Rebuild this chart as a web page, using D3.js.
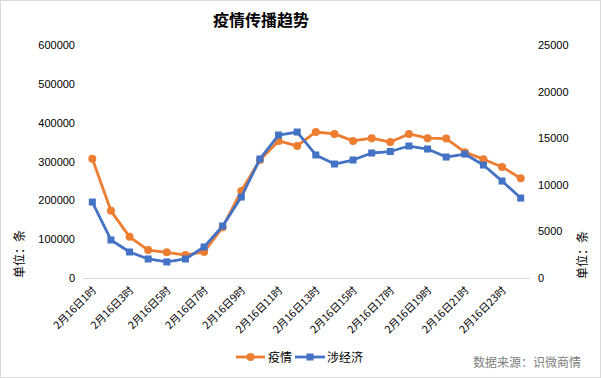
<!DOCTYPE html>
<html><head><meta charset="utf-8">
<script src="https://cdn.jsdelivr.net/npm/d3@7"></script>
<style>body{margin:0;background:#fff}svg{display:block}</style>
</head><body>
<svg id="c" width="601" height="378"></svg>
<script>
const hours = ["2月16日1时","2月16日2时","2月16日3时","2月16日4时","2月16日5时","2月16日6时","2月16日7时","2月16日8时","2月16日9时","2月16日10时","2月16日11时","2月16日12时","2月16日13时","2月16日14时","2月16日15时","2月16日16时","2月16日17时","2月16日18时","2月16日19时","2月16日20时","2月16日21时","2月16日22时","2月16日23时","2月16日24时"];
const epidemic = [307000,173000,106000,72000,66000,59000,67000,131000,224000,304000,353000,340000,376000,371000,353000,360000,350000,371000,360000,359000,324000,306000,286000,257000];
const economy = [8150,4080,2790,2040,1720,2040,3330,5580,8690,12770,15340,15660,13200,12230,12660,13410,13570,14160,13840,12980,13300,12120,10400,8580];
const leftTicks = [0,100000,200000,300000,400000,500000,600000];
const rightTicks = [0,5000,10000,15000,20000,25000];
const seriesNames = ["疫情","涉经济"];

const svg = d3.select("#c");
const L=83, R=530, T=45, B=278;
const orange="#ED7D31", blue="#4472C4";
svg.append("rect").attr("x",0.5).attr("y",0.5).attr("width",600).attr("height",377).attr("fill","#fff").attr("stroke","#d9d9d9");

const x = d3.scalePoint().domain(hours).range([L,R]).padding(0.5);
const yL = d3.scaleLinear().domain([0,600000]).range([B,T]);
const yR = d3.scaleLinear().domain([0,25000]).range([B,T]);

svg.append("text").attr("x",261).attr("y",26).attr("text-anchor","middle")
  .style("font-family","'Noto Sans CJK SC'").style("font-size","16px").style("font-weight","bold").attr("fill","#000").text("疫情传播趋势");

const axL = svg.append("g").attr("transform",`translate(${L},0)`)
  .call(d3.axisLeft(yL).tickValues(leftTicks).tickSize(0).tickPadding(8).tickFormat(d3.format("d")));
const axR = svg.append("g").attr("transform",`translate(${R},0)`)
  .call(d3.axisRight(yR).tickValues(rightTicks).tickSize(0).tickPadding(8).tickFormat(d3.format("d")));
[axL,axR].forEach(a=>{a.select(".domain").remove();a.selectAll("text").style("font-family","'Liberation Sans',Arial").style("font-size","11px").attr("fill","#000");});

svg.append("line").attr("x1",L).attr("x2",R).attr("y1",B+0.5).attr("y2",B+0.5).attr("stroke","#d9d9d9");

const ax = svg.append("g").attr("transform",`translate(0,${B})`)
  .call(d3.axisBottom(x).tickValues(hours.filter((d,i)=>i%2===0)).tickSize(0));
ax.select(".domain").remove();
ax.selectAll("text").attr("text-anchor","end").attr("dy",null).attr("y",0)
  .attr("transform",function(d){return `translate(4,13) rotate(-45)`;})
  .style("font-family","'Noto Sans CJK SC'").style("font-size","10.5px").attr("fill","#000");

svg.append("text").attr("transform","translate(24,254) rotate(-90)").attr("text-anchor","middle")
  .style("font-family","'Noto Sans CJK SC'").style("font-size","12px").text("单位：条");
svg.append("text").attr("transform","translate(587,255) rotate(-90)").attr("text-anchor","middle")
  .style("font-family","'Noto Sans CJK SC'").style("font-size","12px").text("单位：条");

const lineE = d3.line().x((d,i)=>x(hours[i])).y(d=>yL(d));
const lineB = d3.line().x((d,i)=>x(hours[i])).y(d=>yR(d));
svg.append("path").datum(epidemic).attr("d",lineE).attr("fill","none").attr("stroke",orange).attr("stroke-width",2.8).attr("stroke-linejoin","round");
svg.selectAll(".ce").data(epidemic).join("circle").attr("cx",(d,i)=>x(hours[i])).attr("cy",d=>yL(d)).attr("r",4).attr("fill",orange);
svg.append("path").datum(economy).attr("d",lineB).attr("fill","none").attr("stroke",blue).attr("stroke-width",2.8).attr("stroke-linejoin","round");
svg.selectAll(".sb").data(economy).join("rect").attr("x",(d,i)=>x(hours[i])-3.5).attr("y",d=>yR(d)-3.5).attr("width",7).attr("height",7).attr("fill",blue);

// legend
const lg = svg.append("g");
lg.append("line").attr("x1",236).attr("x2",265).attr("y1",357).attr("y2",357).attr("stroke",orange).attr("stroke-width",2.8);
lg.append("circle").attr("cx",250.5).attr("cy",357).attr("r",4).attr("fill",orange);
lg.append("text").attr("x",268).attr("y",361.5).style("font-family","'Noto Sans CJK SC'").style("font-size","12px").text(seriesNames[0]);
lg.append("line").attr("x1",295).attr("x2",325).attr("y1",357).attr("y2",357).attr("stroke",blue).attr("stroke-width",2.8);
lg.append("rect").attr("x",306.5).attr("y",353.5).attr("width",7).attr("height",7).attr("fill",blue);
lg.append("text").attr("x",327).attr("y",361.5).style("font-family","'Noto Sans CJK SC'").style("font-size","12px").text(seriesNames[1]);

svg.append("text").attr("x",473).attr("y",366.5).style("font-family","'Noto Sans CJK SC'").style("font-size","12px").attr("fill","#808080").text("数据来源：识微商情");
</script>
</body></html>
